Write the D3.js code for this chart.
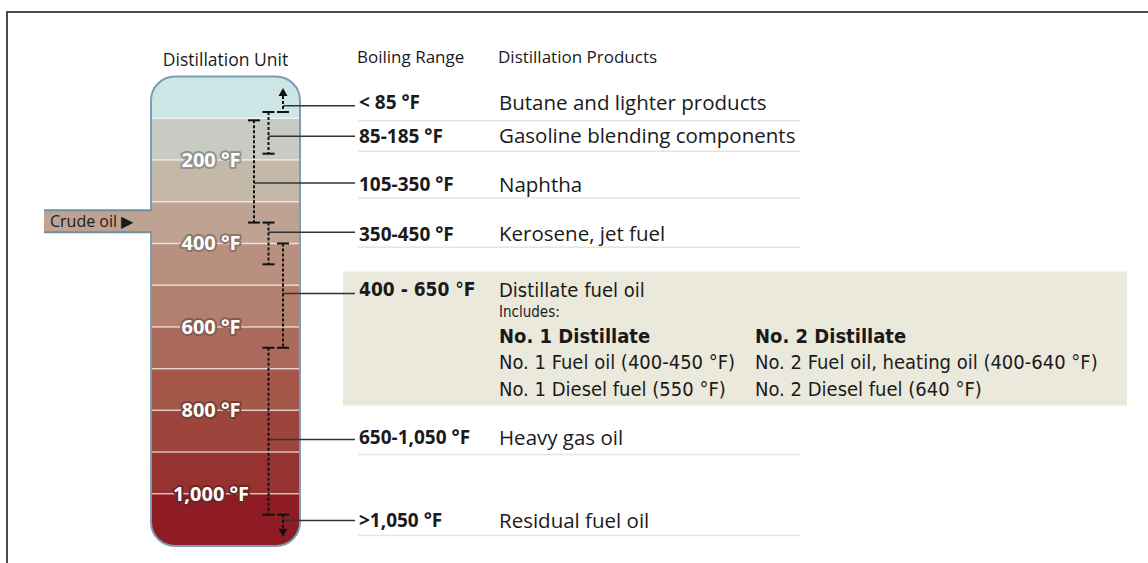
<!DOCTYPE html>
<html>
<head>
    <meta charset="utf-8">
    <title>Distillation unit</title>
    <script type="text/javascript" src="https://cdn.jsdelivr.net/npm/d3@7/dist/d3.min.js"></script>
    <style type="text/css">
        html, body { margin: 0; background: #fff; }
        svg { display: block; }
        text { font-family: "Open Sans", "Noto Sans", sans-serif; fill: #1a1a1a; }
        .narrow { font-family: "Liberation Sans Narrow", "DejaVu Sans Condensed", "Open Sans", sans-serif; }
    </style>
</head>
<body>
<script type="text/javascript">
    // ---- data ----
    var rangeLabels = ["< 85 °F", "85-185 °F", "105-350 °F", "350-450 °F", "400 - 650 °F", "650-1,050 °F", ">1,050 °F"];
    var products = ["Butane and lighter products", "Gasoline blending components", "Naphtha", "Kerosene, jet fuel",
        "Distillate fuel oil", "Heavy gas oil", "Residual fuel oil"];
    var lowF = [null, 85, 105, 350, 400, 650, 1050];     // null = open end (arrow up)
    var highF = [85, 185, 350, 450, 650, 1050, null];    // null = open end (arrow down)
    var tempTicks = [200, 400, 600, 800, 1000];
    var bandStarts = [0, 100, 200, 300, 400, 500, 600, 700, 800, 900, 1000];
    var bandColors = ["#cbe6e5", "#c7cbc3", "#c4b8a8", "#bea393", "#b9907f", "#b37f6e", "#ab6b5c",
        "#a5574a", "#9d453c", "#963330", "#8f1b25"];
    var distHeads = ["No. 1 Distillate", "No. 2 Distillate"];
    var dist1 = ["No. 1 Fuel oil (400-450 °F)", "No. 1 Diesel fuel (550 °F)"];
    var dist2 = ["No. 2 Fuel oil, heating oil (400-640 °F)", "No. 2 Diesel fuel (640 °F)"];

    // ---- layout ----
    var width = 1148, height = 563;
    var maxF = 1125;
    var lane = [2, 1, 0, 1, 2, 1, 2];                  // which dashed column each bar uses
    var leaderF = [70, 143, 255, 373, 520, 870, 1064];  // where the leader leaves the bar
    var textDy = [-3, 0, 2, 2, -4, -2, 0];
    var crudeF = 347;

    var svg = d3.select("body").append("svg")
        .attr("width", width).attr("height", height);

    var y = d3.scaleLinear().domain([0, maxF]).range([76.5, 546]);
    var xLane = d3.scaleLinear().domain([0, 2]).range([254, 283]);
    var col = {x: 151, w: 149};
    var fmt = d3.format(",");

    // frame
    svg.append("path").attr("d", "M7,563V12H1148")
        .attr("fill", "none").attr("stroke", "#4a4a4a").attr("stroke-width", 2);

    // headers
    svg.append("text").attr("x", col.x + col.w / 2).attr("y", 66).attr("text-anchor", "middle")
        .style("font-size", "17.5px").text("Distillation Unit");
    svg.append("text").attr("x", 357).attr("y", 63).style("font-size", "17px").text("Boiling Range");
    svg.append("text").attr("x", 498).attr("y", 63).style("font-size", "17px").text("Distillation Products");

    // column
    svg.append("clipPath").attr("id", "colclip")
        .append("rect").attr("x", col.x).attr("y", y(0)).attr("width", col.w)
        .attr("height", y(maxF) - y(0)).attr("rx", 24);

    var colG = svg.append("g").attr("clip-path", "url(#colclip)");
    colG.selectAll("rect.band").data(bandStarts).enter().append("rect")
        .attr("class", "band")
        .attr("x", col.x).attr("width", col.w)
        .attr("y", function (d) { return y(d); })
        .attr("height", function (d, i) { return y(i < bandStarts.length - 1 ? bandStarts[i + 1] : maxF) - y(d); })
        .attr("fill", function (d, i) { return bandColors[i]; });
    colG.selectAll("line.sep").data(bandStarts.slice(1)).enter().append("line")
        .attr("class", "sep")
        .attr("x1", col.x).attr("x2", col.x + col.w)
        .attr("y1", function (d) { return y(d); }).attr("y2", function (d) { return y(d); })
        .attr("stroke", "rgba(255,255,255,0.65)").attr("stroke-width", 1.5);

    svg.append("rect").attr("x", col.x).attr("y", y(0)).attr("width", col.w)
        .attr("height", y(maxF) - y(0)).attr("rx", 24)
        .attr("fill", "none").attr("stroke", "#7e9db0").attr("stroke-width", 2);

    // crude oil inlet pipe
    var bandOf = function (t) { return bandColors[d3.bisectRight(bandStarts, t) - 1]; };
    var py = y(crudeF);
    svg.append("rect").attr("x", 44).attr("y", py - 11).attr("width", col.x - 44 + 2).attr("height", 22)
        .attr("fill", bandOf(crudeF));
    svg.append("path").attr("d", "M44," + (py - 11) + "H" + (col.x + 1) + "M44," + (py + 11) + "H" + (col.x + 1))
        .attr("stroke", "#6f8fa3").attr("stroke-width", 2);
    svg.append("text").attr("x", 50).attr("y", py + 6).style("font-size", "16px").text("Crude oil \u25B6");

    // temperature labels
    svg.selectAll("text.tick").data(tempTicks).enter().append("text")
        .attr("class", "tick")
        .attr("x", 211).attr("y", function (d) { return y(d) + 7; })
        .attr("text-anchor", "middle")
        .style("font-size", "20px").style("font-weight", "bold")
        .style("fill", "#fff")
        .style("stroke", function (d) { return d3.color(bandOf(d - 1)).darker(0.9); })
        .style("stroke-width", 4).style("paint-order", "stroke").style("stroke-linejoin", "round")
        .text(function (d) { return fmt(d) + " \u00B0F"; });

    // distillate box
    var dRow = 4;
    var dy0 = y(leaderF[dRow]);
    svg.append("rect").attr("x", 343).attr("y", dy0 - 22).attr("width", 1127 - 343).attr("height", 134)
        .attr("fill", "#eae9dc");

    // rows
    products.forEach(function (p, i) {
        var ly = y(leaderF[i]);
        var bx = xLane(lane[i]);
        var ty = ly + textDy[i];
        var boxed = i === dRow;

        // leader
        svg.append("line").attr("x1", bx).attr("x2", 355).attr("y1", ly).attr("y2", ly)
            .attr("stroke", "#333").attr("stroke-width", 1.5);

        // bar
        var top = lowF[i] == null ? y(highF[i]) - 16 : y(lowF[i]);
        var bot = highF[i] == null ? y(lowF[i]) + 14 : y(highF[i]);
        svg.append("line").attr("x1", bx).attr("x2", bx).attr("y1", top).attr("y2", bot)
            .attr("stroke", "#111").attr("stroke-width", 2).attr("stroke-dasharray", "3,2");
        if (lowF[i] != null) {
            svg.append("line").attr("x1", bx - 6).attr("x2", bx + 6).attr("y1", y(lowF[i])).attr("y2", y(lowF[i]))
                .attr("stroke", "#111").attr("stroke-width", 2);
        } else {
            svg.append("path").attr("d", "M" + (bx - 4.5) + "," + top + "L" + bx + "," + (top - 8) + "L" + (bx + 4.5) + "," + top + "Z")
                .attr("fill", "#111");
        }
        if (highF[i] != null) {
            svg.append("line").attr("x1", bx - 6).attr("x2", bx + 6).attr("y1", y(highF[i])).attr("y2", y(highF[i]))
                .attr("stroke", "#111").attr("stroke-width", 2);
        } else {
            svg.append("path").attr("d", "M" + (bx - 4.5) + "," + bot + "L" + bx + "," + (bot + 8) + "L" + (bx + 4.5) + "," + bot + "Z")
                .attr("fill", "#111");
        }

        // texts
        svg.append("text").attr("x", 359).attr("y", ty + 6.5)
            .attr("class", boxed ? "narrow" : null)
            .style("font-size", boxed ? "19px" : "19px").style("font-weight", "bold")
            .text(rangeLabels[i]);
        svg.append("text").attr("x", 499).attr("y", ty + 7)
            .attr("class", boxed ? "narrow" : null)
            .style("font-size", boxed ? "20px" : "20.5px")
            .text(p);

        if (!boxed) {
            svg.append("line").attr("x1", 358).attr("x2", 800).attr("y1", ly + 15).attr("y2", ly + 15)
                .attr("stroke", "#e6e6d7").attr("stroke-width", 1.5);
        }
    });

    // distillate details
    var dBase = dy0 + textDy[dRow];
    svg.append("text").attr("class", "narrow").attr("x", 499).attr("y", dBase + 27)
        .style("font-size", "15px").text("Includes:");
    [dist1, dist2].forEach(function (lines, c) {
        var x = c === 0 ? 499 : 755;
        svg.append("text").attr("class", "narrow").attr("x", x).attr("y", dBase + 53)
            .style("font-size", "20px").style("font-weight", "bold").text(distHeads[c]);
        svg.selectAll(null).data(lines).enter().append("text")
            .attr("class", "narrow")
            .attr("x", x).attr("y", function (d, j) { return dBase + 79 + j * 27; })
            .style("font-size", "20px")
            .text(function (d) { return d; });
    });
</script>
</body>
</html>
